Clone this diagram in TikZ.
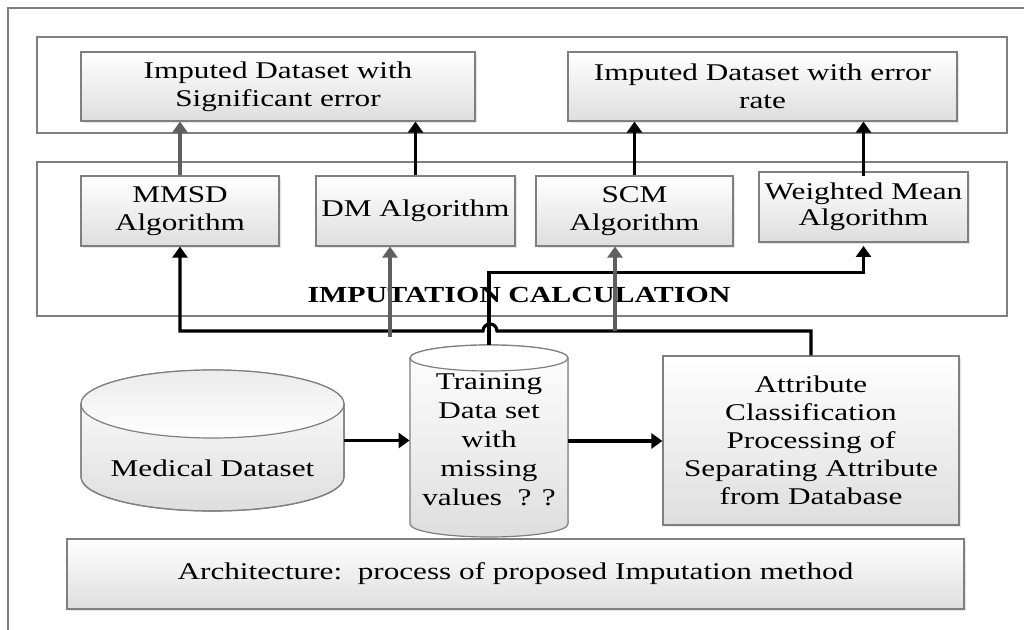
\documentclass[tikz,border=0pt]{standalone}
\usepackage{fontspec}
\setmainfont{Liberation Serif}[FakeStretch=1.3]
\usetikzlibrary{positioning,arrows.meta,shadows,calc}
\definecolor{cline}{HTML}{7F7F7F}
\definecolor{cgrey}{HTML}{5F5F5F}
\definecolor{cshade}{HTML}{DEDEDE}
\tikzset{
  panel/.style={rectangle, draw=cline, fill=white, line width=0.6pt, inner sep=0pt},
  box/.style={rectangle, draw=cline, top color=white, bottom color=cshade, line width=0.6pt,
              drop shadow={shadow xshift=1pt, shadow yshift=-1pt, opacity=0.2},
              align=center, inner sep=0pt, font=\fontsize{12}{14}\selectfont},
  dbase/.style={rectangle, inner sep=0pt},
  lbl/.style={align=center, inner sep=0pt, font=\fontsize{12}{14.5}\selectfont},
  flow/.style={-{Triangle[length=5.5pt,width=7.5pt]}, line width=1.6pt, draw=black},
  gflow/.style={flow, draw=cgrey}
}

\begin{document}
\begin{tikzpicture}[x=0.5pt,y=-0.5pt]
\useasboundingbox (0,0) rectangle (1024,630);
\draw[cline, line width=0.6pt] (1024,8) -- (8,8) -- (8,630);
% panels
\node[panel, minimum width=485pt, minimum height=48pt] (outp) at (522,85) {};
\node[panel, minimum width=485pt, minimum height=77pt] (calcp) at (522,239) {};
% results
\node[box, minimum width=197pt, minimum height=34.5pt] (imp1) at (278,86.5) {Imputed Dataset with\\Significant error};
\node[box, minimum width=194.5pt, minimum height=34.5pt] (imp2) at (762.5,86.5) {Imputed Dataset with error\\rate};
% algorithms
\node[box, minimum width=99pt, minimum height=35pt] (mmsd) at (180,211) {MMSD\\Algorithm};
\node[box, minimum width=99.5pt, minimum height=35pt] (dm) at (415.5,211) {DM Algorithm};
\node[box, minimum width=98.5pt, minimum height=35pt] (scm) at (634.5,211) {SCM\\Algorithm};
\node[box, minimum width=104.5pt, minimum height=35pt, font=\fontsize{12}{13}\selectfont] (wm) at (863.5,207) {Weighted Mean\\Algorithm};
\node[font=\fontsize{11.5}{13}\selectfont\bfseries, inner sep=0pt] (calc) at (519,295) {IMPUTATION CALCULATION};
% databases
\node[dbase, minimum width=131.5pt, minimum height=70.5pt] (med) at (212.5,440.5) {};
\fill[top color=white, bottom color=cshade, draw=cline, line width=0.6pt]
  (81,404) -- (81,477) arc[start angle=180, end angle=360, x radius=65.75pt, y radius=17pt]
  -- (344,404) arc[start angle=0, end angle=180, x radius=65.75pt, y radius=17pt] -- cycle;
\draw[cline, line width=0.6pt, top color=cshade!60, bottom color=white]
  (212.5,404) ellipse[x radius=65.75pt, y radius=17pt];
\draw[cline, line width=0.6pt] (81,404) -- (81,477) arc[start angle=180, end angle=360, x radius=65.75pt, y radius=17pt] -- (344,404);
\node[lbl] (medtxt) at (212.5,468) {Medical Dataset};
\node[dbase, minimum width=79pt, minimum height=96pt] (train) at (489,441) {};
\fill[top color=white, bottom color=cshade, draw=cline, line width=0.6pt]
  (410,358) -- (410,524) arc[start angle=180, end angle=360, x radius=39.5pt, y radius=6.5pt]
  -- (568,358) arc[start angle=0, end angle=180, x radius=39.5pt, y radius=6.5pt] -- cycle;
\draw[cline, line width=0.6pt, fill=white] (489,358) ellipse[x radius=39.5pt, y radius=6.5pt];
\node[lbl] (traintxt) at (489,440) {Training\\Data set\\with\\missing\\values\ \ ? ?};
% attribute step and caption
\node[box, minimum width=148pt, minimum height=84.5pt] (attr) at (811,440.5) {Attribute\\Classification\\Processing of\\Separating Attribute\\from Database};
\node[box, minimum width=448.5pt, minimum height=35pt] (cap) at (515.5,574) {Architecture:\ \ process of proposed Imputation method};
% stubs of the grey arrows
\coordinate (dmin) at (390,337);
\coordinate (scmin) at (615,331);
% connectors
\draw[flow] (med.east) -- (med.east -| train.west);
\draw[flow] (train.east) -- (train.east -| attr.west);
\draw[flow] (attr.north) |- (497,331) arc[start angle=0, end angle=180, radius=3.5pt] -| (mmsd.south);
\draw[flow] (train.north) -- ++(0,-72) -| (wm.south |- 0,246);
\draw[gflow] (dmin) -- (dmin |- dm.south);
\draw[gflow] (scmin) -- (scmin |- scm.south);
\draw[gflow] (mmsd.north) -- (mmsd.north |- imp1.south);
\draw[flow] (dm.north) -- (dm.north |- imp1.south);
\draw[flow] (scm.north) -- (scm.north |- imp2.south);
\draw[flow] (wm.north |- 0,176) -- (wm.north |- imp2.south);
\end{tikzpicture}
\end{document}
